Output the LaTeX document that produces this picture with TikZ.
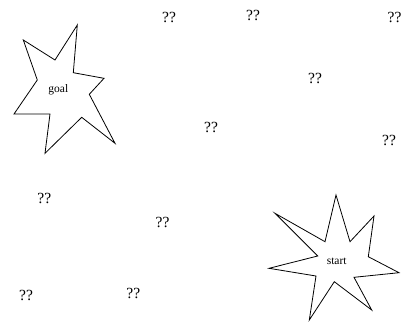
\documentclass[tikz,border=0pt]{standalone}
\usepackage{fontspec}
\setmainfont{Liberation Serif}
\usetikzlibrary{positioning}

\begin{document}
\begin{tikzpicture}[x=1pt,y=-1pt,
  qmark/.style={font=\fontsize{15.5}{17}\selectfont,inner sep=0pt},
  place/.style={font=\fontsize{11.5}{13}\selectfont,inner sep=0pt},
  starline/.style={draw=black,line width=0.8pt,line join=miter}
]
\useasboundingbox (0,0) rectangle (406,322);
% goal star
\draw[starline] (23.3,40) -- (55,60) -- (77.3,25) -- (73.3,72.7) -- (104,78.3) -- (89.3,94.3)
  -- (115,143.3) -- (81.7,117.3) -- (45,153.3) -- (50,114) -- (14,114) -- (37.3,80) -- cycle;
\node[place] (goal) at (58.3,90) {goal};
% start star
\draw[starline] (275,213.3) -- (325,241.7) -- (336,195) -- (350,241.7) -- (374,216) -- (368.3,256.7)
  -- (399,272.7) -- (354,277.3) -- (371.7,310) -- (334.3,281.7) -- (309.3,320) -- (316,276)
  -- (269,268.3) -- (317.7,256) -- cycle;
\node[place] (start) at (336.7,261) {start};
% unknown places
\foreach \n/\x/\y in {q1/169/17, q2/253/15, q3/394.5/17, q4/315/78, q5/211/127,
                      q6/389/140, q7/44.3/198, q8/162.5/222.5, q9/26/295, q10/133.3/293.3}
  \node[qmark] (\n) at (\x,\y) {??};
\end{tikzpicture}
\end{document}
